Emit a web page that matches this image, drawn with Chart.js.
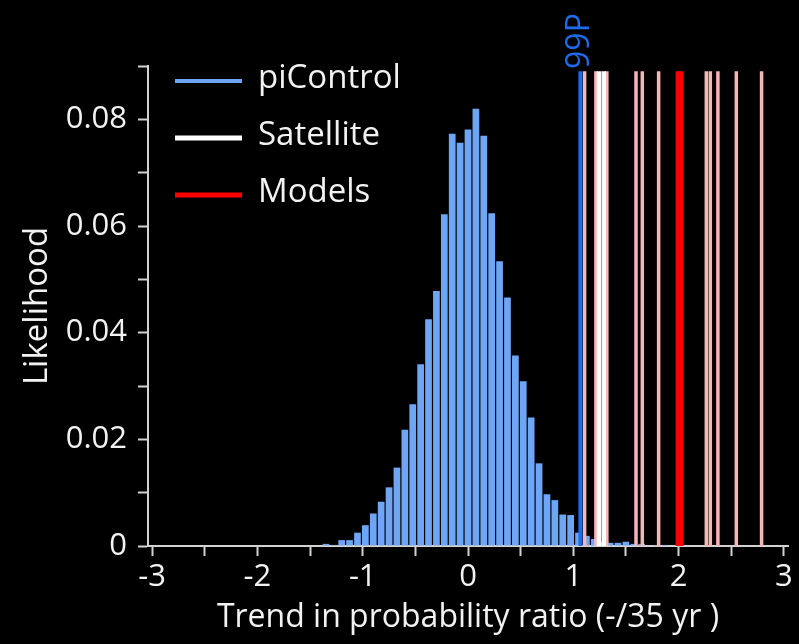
<!DOCTYPE html>
<html>
<head>
<meta charset="utf-8">
<script src="https://cdn.jsdelivr.net/npm/chart.js@4.4.1/dist/chart.umd.min.js"></script>
<style>
  html, body { margin: 0; padding: 0; background: #000; }
  #caja { width: 799px; height: 644px; }
</style>
</head>
<body>
<div id="caja"><canvas id="grafica"></canvas></div>
<script>
// histogram bins (centre of each bin) and likelihood
const binCenters = [-1.35, -1.275, -1.2, -1.125, -1.05, -0.975, -0.9, -0.825, -0.75, -0.675,
  -0.6, -0.525, -0.45, -0.375, -0.3, -0.225, -0.15, -0.075, 0, 0.075,
  0.15, 0.225, 0.3, 0.375, 0.45, 0.525, 0.6, 0.675, 0.75, 0.825,
  0.9, 0.975, 1.05, 1.125, 1.2, 1.275, 1.35, 1.425, 1.5, 1.575,
  1.65, 1.725, 1.8, 1.875];
const likelihood = [0.0004, 0.0002, 0.0011, 0.0011, 0.0025, 0.0039, 0.0061, 0.0083, 0.0110, 0.0147,
  0.0218, 0.0266, 0.0341, 0.0425, 0.0478, 0.0622, 0.0773, 0.0756, 0.0781, 0.0820,
  0.0769, 0.0624, 0.0534, 0.0466, 0.0357, 0.0309, 0.0241, 0.0155, 0.0097, 0.0086,
  0.0059, 0.0058, 0.0025, 0.0019, 0.0013, 0.0008, 0.0006, 0.0006, 0.0008, 0.0004,
  0.0004, 0.0001, 0.0002, 0.0002];

// vertical lines
const modelTrends = [1.108, 1.215, 1.319, 1.596, 1.656, 1.811, 2.264, 2.302, 2.374, 2.549, 2.789];
const satelliteTrends = [1.245, 1.29];
const modelMean = [2.01];
const piControl99 = [1.068];
const lineTop = 0.089;

// ticks
const xTickValues = [-3, -2, -1, 0, 1, 2, 3];
const xTickLabels = ['-3', '-2', '-1', '0', '1', '2', '3'];
const yTickLabels = ['0', '0.02', '0.04', '0.06', '0.08'];

const legendLabels = ['piControl', 'Satellite', 'Models'];

const azulHist = '#6EA6F5';
const azulFuerte = '#1C6CEB';
const rosa = '#F5B6B6';
const rojo = '#FF0000';
const blanco = '#FFFFFF';
const gris = '#D2D2D2';
const texto = '#F2F2F2';
const fuente = "'Open Sans', 'DejaVu Sans', sans-serif";

function lineaVertical(x, color, ancho, orden) {
  return {
    type: 'line',
    data: [{ x: x, y: 0 }, { x: x, y: lineTop }],
    borderColor: color,
    borderWidth: ancho,
    borderCapStyle: 'butt',
    pointRadius: 0,
    order: orden
  };
}

let datasets = [];
datasets.push({
  type: 'bar',
  label: 'piControl',
  data: binCenters.map((x, i) => ({ x: x, y: likelihood[i] })),
  backgroundColor: azulHist,
  categoryPercentage: 1,
  barPercentage: 0.85,
  order: 5
});
modelTrends.forEach(v => datasets.push(lineaVertical(v, rosa, 3.5, 4)));
satelliteTrends.forEach(v => datasets.push(lineaVertical(v, blanco, 4.5, 3)));
modelMean.forEach(v => datasets.push(lineaVertical(v, rojo, 8, 2)));
piControl99.forEach(v => datasets.push(lineaVertical(v, azulFuerte, 4, 1)));

/* fondo negro */
const fondo = {
  id: 'fondo',
  beforeDraw(chart) {
    const c = chart.ctx;
    c.save();
    c.fillStyle = '#000';
    c.fillRect(0, 0, chart.width, chart.height);
    c.restore();
  }
};

/* leyenda dentro del area + etiqueta 99P */
const extras = {
  id: 'extras',
  afterDatasetsDraw(chart) {
    const c = chart.ctx;
    const area = chart.chartArea;
    const colores = [azulHist, blanco, rojo];
    const grosor = [4, 5, 5];
    c.save();
    legendLabels.forEach((lab, i) => {
      const y = area.top + 15 + i * 57;
      c.strokeStyle = colores[i];
      c.lineWidth = grosor[i];
      c.lineCap = 'butt';
      c.beginPath();
      c.moveTo(area.left + 27, y);
      c.lineTo(area.left + 94, y);
      c.stroke();
      c.fillStyle = texto;
      c.font = "33px " + fuente;
      c.textBaseline = 'middle';
      c.textAlign = 'left';
      c.fillText(lab, area.left + 110, y - 2);
    });

    // 99P
    const xs = chart.scales.x;
    const px = xs.getPixelForValue(piControl99[0]);
    c.translate(px - 1, area.top - 25);
    c.rotate(-Math.PI / 2);
    c.fillStyle = azulFuerte;
    c.font = "32px " + fuente;
    c.textAlign = 'center';
    c.textBaseline = 'middle';
    c.fillText('99P', 0, 0);
    c.restore();
  }
};

new Chart(document.getElementById('grafica'), {
  type: 'bar',
  data: { datasets: datasets },
  options: {
    responsive: true,
    maintainAspectRatio: false,
    animation: false,
    layout: { padding: { top: 66, right: 11, left: 0, bottom: 0 } },
    plugins: {
      legend: { display: false },
      tooltip: { enabled: false }
    },
    scales: {
      x: {
        type: 'linear',
        min: -3.04,
        max: 3.04,
        offset: false,
        afterFit: s => { s.height = 98; },
        afterBuildTicks: s => {
          let t = [];
          for (let k = -6; k <= 6; k++) t.push({ value: k / 2 });
          s.ticks = t;
        },
        grid: {
          offset: false,
          drawOnChartArea: false,
          drawTicks: true,
          tickLength: 10,
          tickColor: gris,
          tickWidth: 2
        },
        border: { display: true, color: gris, width: 2 },
        ticks: {
          color: texto,
          font: { size: 31, family: fuente },
          padding: 3,
          maxRotation: 0,
          autoSkip: false,
          callback: v => {
            const i = xTickValues.indexOf(v);
            return i >= 0 ? xTickLabels[i] : '';
          }
        },
        title: {
          display: true,
          text: 'Trend in probability ratio (-/35 yr )',
          color: texto,
          font: { size: 32, family: fuente },
          padding: { top: 0, bottom: 7 }
        }
      },
      y: {
        min: 0,
        max: 0.09,
        afterFit: s => { s.width = 148; },
        ticks: {
          stepSize: 0.01,
          color: texto,
          font: { size: 31, family: fuente },
          padding: 11,
          callback: v => {
            const i = Math.round(v * 100);
            return (i % 2 === 0 && i / 2 < yTickLabels.length) ? yTickLabels[i / 2] : '';
          }
        },
        grid: {
          drawOnChartArea: false,
          drawTicks: true,
          tickLength: 10,
          tickColor: gris,
          tickWidth: 2
        },
        border: { display: true, color: gris, width: 2 },
        title: {
          display: true,
          text: 'Likelihood',
          color: texto,
          font: { size: 33, family: fuente },
          padding: { top: 18, bottom: 0 }
        }
      }
    }
  },
  plugins: [fondo, extras]
});
</script>
</body>
</html>
